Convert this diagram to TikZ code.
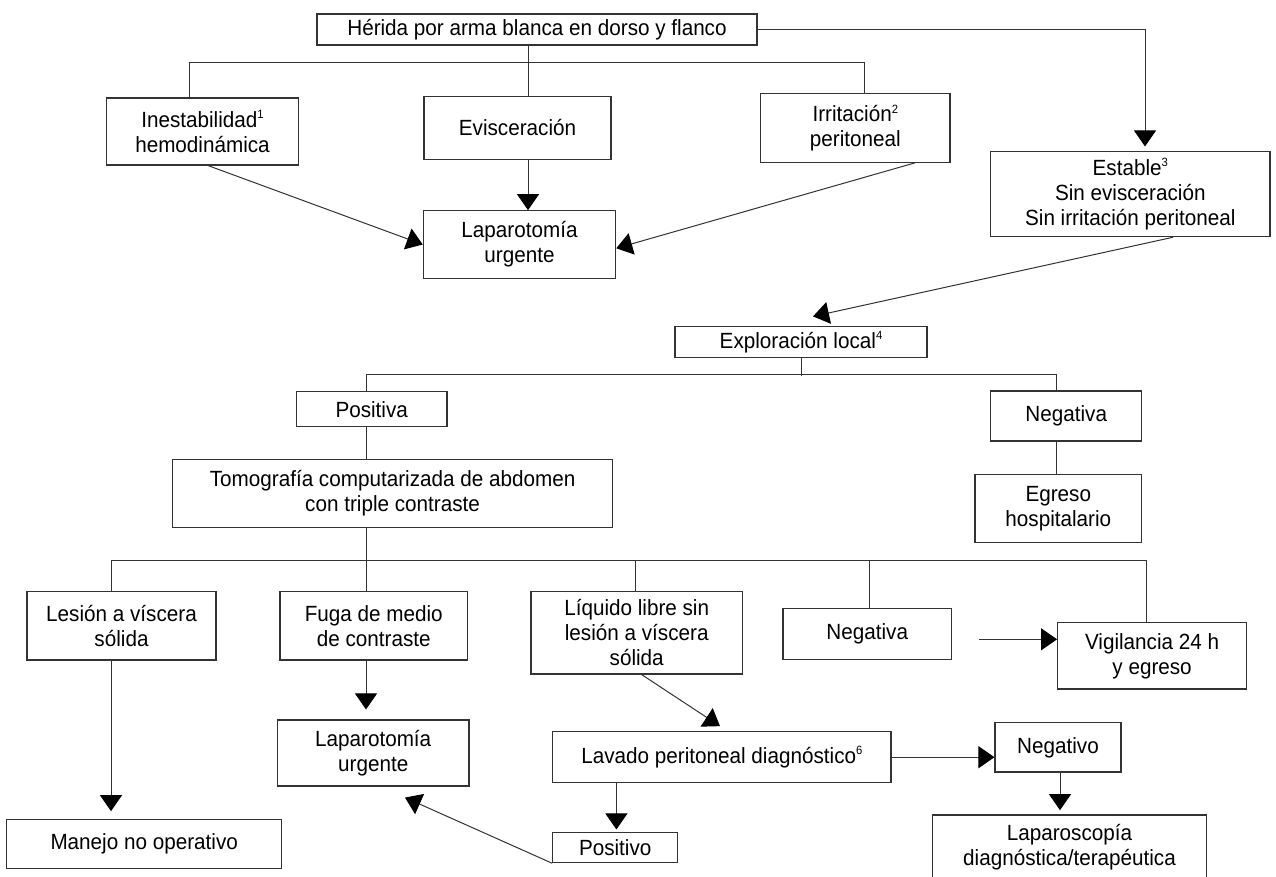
\documentclass[tikz,border=0pt]{standalone}
\usepackage{fontspec}
\setmainfont{Liberation Sans}[FakeStretch=0.94]
\usetikzlibrary{arrows.meta,calc}
\newcommand\supn[1]{\raisebox{0.72ex}{\fontsize{12}{12}\selectfont #1}}
\begin{document}
\begin{tikzpicture}[x=1pt,y=-1pt,
  box/.style={draw=black!80, line width=1.1pt, align=center, inner sep=0pt,
    font=\fontsize{22}{25}\selectfont},
  ln/.style={draw=black!80, line width=1pt},
  arr/.style={ln, -{Triangle[width=22pt,length=16pt,color=black]}}]
\useasboundingbox (0,0) rectangle (1276,876);
\clip (0,0) rectangle (1276,876);
\fill[white] (0,0) rectangle (1276,876);
% nodes
\node[box, minimum width=440pt, minimum height=31pt] (top) at (537,29.5) {Hérida por arma blanca en dorso y flanco};
\node[box, minimum width=192pt, minimum height=67pt] (inest) at (202.5,131.5) {Inestabilidad\supn{1}\\hemodinámica};
\node[box, minimum width=187pt, minimum height=62.6pt] (evis) at (517.5,128) {Evisceración};
\node[box, minimum width=189.4pt, minimum height=68.6pt] (irrit) at (855.3,128) {Irritación\supn{2}\\peritoneal};
\node[box, minimum width=192.4pt, minimum height=67.6pt] (lap1) at (519.5,244.5) {Laparotomía\\urgente};
\node[box, minimum width=279.3pt, minimum height=85pt] (estable) at (1130.3,194.2) {Estable\supn{3}\\Sin evisceración\\Sin irritación peritoneal};
\node[box, minimum width=252pt, minimum height=30.7pt] (explo) at (801,342) {Exploración local\supn{4}};
\node[box, minimum width=150.5pt, minimum height=35pt] (positiva) at (371.7,409.2) {Positiva};
\node[box, minimum width=151pt, minimum height=50pt] (negativa1) at (1066.2,416) {Negativa};
\node[box, minimum width=166.7pt, minimum height=67.6pt] (egreso) at (1058.3,508.5) {Egreso\\hospitalario};
\node[box, minimum width=440pt, minimum height=68pt] (tc) at (392.6,493.3) {Tomografía computarizada de abdomen\\con triple contraste};
\node[box, minimum width=189pt, minimum height=68.3pt] (lesion) at (121.5,625.8) {Lesión a víscera\\sólida};
\node[box, minimum width=187.7pt, minimum height=68.3pt] (fuga) at (373.8,625.8) {Fuga de medio\\de contraste};
\node[box, minimum width=211.5pt, minimum height=82.3pt] (liquido) at (636.7,632.8) {Líquido libre sin\\lesión a víscera\\sólida};
\node[box, minimum width=168.5pt, minimum height=51pt] (negativa2) at (867.2,633.8) {Negativa};
\node[box, minimum width=189pt, minimum height=66.3pt] (vigil) at (1152.1,655.8) {Vigilancia 24 h\\y egreso};
\node[box, minimum width=275pt, minimum height=49pt] (manejo) at (144.2,843.8) {Manejo no operativo};
\node[box, minimum width=191.5pt, minimum height=66pt] (lap2) at (373.2,753) {Laparotomía\\urgente};
\node[box, minimum width=338.2pt, minimum height=51pt] (lavado) at (721.9,757.2) {Lavado peritoneal diagnóstico\supn{6}};
\node[box, minimum width=125pt, minimum height=30pt] (positivo) at (615.2,847.7) {Positivo};
\node[box, minimum width=126pt, minimum height=49.3pt] (negativo) at (1058,747.3) {Negativo};
\node[box, minimum width=274.4pt, minimum height=65pt] (laparos) at (1069.5,847.5) {Laparoscopía\\diagnóstica/terapéutica};
\coordinate (vstart) at (979,639.3);
% top tree
\draw[arr] (top.east) -| ($(estable.north)+(14.7,-4.7)$);
\draw[ln] ([xshift=-9pt]top.south) -- ([xshift=10.5pt]evis.north);
\draw[ln] ([xshift=-13.5pt]inest.north) -- ++(0,-34.7) -| ([xshift=8.7pt]irrit.north);
\draw[arr] ([xshift=10.5pt]evis.south) -- ([xshift=8.5pt]lap1.north);
\draw[arr] ([xshift=5.5pt]inest.south) -- (lap1.west);
\draw[arr] ([xshift=59.7pt]irrit.south) -- ([yshift=-3.8pt]lap1.east);
\draw[arr] ([xshift=42.7pt]estable.south) -- ([xshift=12pt,yshift=9.7pt]explo.north);
% exploracion tree
\draw[ln] (explo.south) -- ++(0,17.7);
\draw[ln] ([xshift=-5.7pt]positiva.north) -- ++(0,-16.7) -| ([xshift=-9.5pt]negativa1.north);
\draw[ln] ([xshift=-5.7pt]positiva.south) -- ([xshift=-26.6pt]tc.north);
\draw[ln] ([xshift=-9.5pt]negativa1.south) -- ([xshift=-1.6pt]egreso.north);
% tc tree
\draw[ln] ([xshift=-26.6pt]tc.south) -- ([xshift=-7.8pt]fuga.north);
\draw[ln] ([xshift=-10.5pt]lesion.north) -- ++(0,-30.7) -| ([xshift=-6.1pt]vigil.north);
\draw[ln] ([xshift=-1.4pt]liquido.north) -- ++(0,-30.7);
\draw[ln] ([xshift=1.8pt]negativa2.north) -- ++(0,-47.3);
% arrows bottom
\draw[arr] ([xshift=-10.5pt]lesion.south) -- ([xshift=-33.2pt,yshift=7.6pt]manejo.north);
\draw[arr] ([xshift=-7.8pt]fuga.south) -- ([xshift=-7.2pt,yshift=10pt]lap2.north);
\draw[arr] ([xshift=4.8pt]liquido.south) -- ([xshift=-1.9pt,yshift=5pt]lavado.north);
\draw[arr] (lavado.east) -- (lavado.east -| negativo.west);
\draw[arr] ([xshift=-105.5pt]lavado.south) -- ([xshift=1.2pt,yshift=2.7pt]positivo.north);
\draw[arr] (positivo.south west) -- ([xshift=31.8pt,yshift=-11pt]lap2.south);
\draw[arr] ([xshift=2pt]negativo.south) -- ([xshift=-9.5pt,yshift=4.3pt]laparos.north);
\draw[arr] (vstart) -- ([yshift=16.5pt]vigil.west);
\end{tikzpicture}
\end{document}
